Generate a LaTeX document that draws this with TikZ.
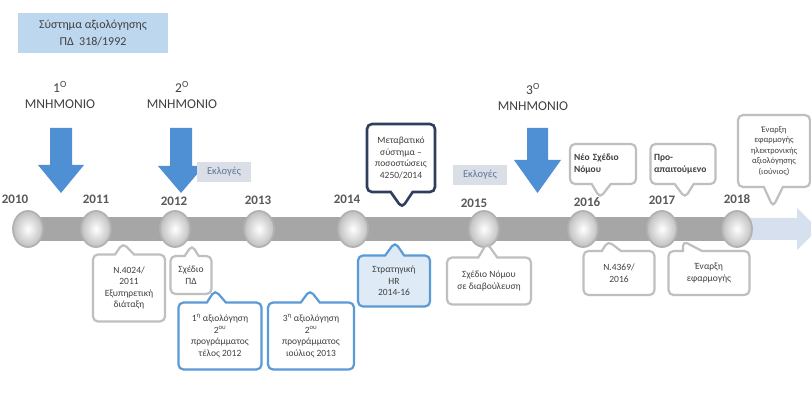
\documentclass[tikz,border=0pt]{standalone}
\usepackage{fontspec}
\setmainfont{Carlito}
\usetikzlibrary{shapes.geometric,shapes.callouts}
\definecolor{arrowblue}{HTML}{4F8FD3}
\definecolor{topbox}{HTML}{BDD7EE}
\definecolor{txt}{HTML}{404040}
\definecolor{yeartxt}{HTML}{595959}
\definecolor{barg}{HTML}{A6A6A6}
\definecolor{barb}{HTML}{D6E0EE}
\definecolor{grayb}{HTML}{BFBFBF}
\definecolor{blueb}{HTML}{5B9BD5}
\definecolor{navyb}{HTML}{2F3E5C}
\definecolor{stratfill}{HTML}{DEEBF7}
\definecolor{eklfill}{HTML}{D9DEE7}
\definecolor{ekltxt}{HTML}{5F7697}
\tikzset{
  callbase/.style={rectangle callout, rounded corners=5pt, line width=2.2pt, fill=white,
    text=txt, font=\fontsize{9.5}{11.5}\selectfont, align=center, inner sep=2pt,
    callout pointer width=19pt},
  graycall/.style={callbase, draw=grayb},
  bluecall/.style={callbase, draw=blueb},
  navycall/.style={callbase, draw=navyb, line width=2.6pt, callout pointer width=22pt},
  yearlbl/.style={font=\fontsize{13}{15}\selectfont\bfseries, text=yeartxt, inner sep=0pt},
  ball/.style={ellipse, minimum width=30pt, minimum height=36pt, inner sep=0pt,
    inner color=white, outer color=gray!50, draw=gray!60, line width=1.8pt},
  memlbl/.style={font=\fontsize{13.5}{16}\selectfont, text=txt, align=center, inner sep=0pt},
  eklbox/.style={fill=eklfill, text=ekltxt, font=\fontsize{10.5}{12}\selectfont,
    minimum width=54pt, minimum height=20pt, inner sep=1pt},
  blockarrow/.style={fill=arrowblue, draw=none}
}
\begin{document}
\begin{tikzpicture}[x=1pt,y=-1pt]
\useasboundingbox (0,0) rectangle (811,403);
\fill[white] (0,0) rectangle (811,403);

% top-left box
\node[fill=topbox, minimum width=150pt, minimum height=40pt, text=txt, align=center,
  font=\fontsize{12}{17}\selectfont] (pd) at (93,33) {Σύστημα αξιολόγησης\\ΠΔ\ \ 318/1992};

% memoranda labels
\node[memlbl] (m1) at (60,95) {1\textsuperscript{Ο}\\ΜΝΗΜΟΝΙΟ};
\node[memlbl] (m2) at (182,95) {2\textsuperscript{Ο}\\ΜΝΗΜΟΝΙΟ};
\node[memlbl] (m3) at (533,97) {3\textsuperscript{Ο}\\ΜΝΗΜΟΝΙΟ};

% block arrows
\fill[blockarrow] (50,128) -- (72,128) -- (72,165) -- (84,165) -- (61,193) -- (38,165) -- (50,165) -- cycle;
\fill[blockarrow] (170,128) -- (192,128) -- (192,166) -- (204,166) -- (181,193) -- (158,166) -- (170,166) -- cycle;
\fill[blockarrow] (527,128) -- (548,128) -- (548,160) -- (561,160) -- (537.5,193) -- (514,160) -- (527,160) -- cycle;

% elections
\node[eklbox] (ekl1) at (224,172) {Εκλογές};
\node[eklbox] (ekl2) at (480,175) {Εκλογές};

% timeline bars
\fill[barb] (740,218) -- (797,218) -- (797,208) -- (818,229) -- (797,250) -- (797,240) -- (740,240) -- cycle;
\fill[barg] (25,217) rectangle (740,241);

% circles
\node[ball] (c2010) at (28,229) {};
\node[ball] (c2011) at (96,229) {};
\node[ball] (c2012) at (175,229) {};
\node[ball] (c2013) at (259,229) {};
\node[ball] (c2014) at (353,229) {};
\node[ball] (c2015) at (484,229) {};
\node[ball] (c2016) at (583,229) {};
\node[ball] (c2017) at (662,229) {};
\node[ball] (c2018) at (737,229) {};

% years
\node[yearlbl] (y2010) at (15,199) {2010};
\node[yearlbl] (y2011) at (96,199) {2011};
\node[yearlbl] (y2012) at (174,201) {2012};
\node[yearlbl] (y2013) at (258,200) {2013};
\node[yearlbl] (y2014) at (347,199) {2014};
\node[yearlbl] (y2015) at (474,203) {2015};
\node[yearlbl] (y2016) at (587,202) {2016};
\node[yearlbl] (y2017) at (662,200) {2017};
\node[yearlbl] (y2018) at (737,199) {2018};

% pointer targets
\coordinate (p1) at (402,208);
\coordinate (p2) at (600,198);
\coordinate (p3) at (685,198);
\coordinate (p4) at (773,207);
\coordinate (q1) at (123,243);
\coordinate (q2) at (192,245);
\coordinate (q3) at (215,290);
\coordinate (q4) at (310,290);
\coordinate (q5) at (395,242);
\coordinate (q6) at (487,243);
\coordinate (q7) at (608,241);
\coordinate (q8) at (683,241);

% callouts above
\node[navycall, minimum width=68pt, minimum height=68pt, callout absolute pointer={(p1)}]
  (meta) at (401,158) {Μεταβατικό\\σύστημα –\\ποσοστώσεις\\4250/2014};
\node[graycall, minimum width=66pt, minimum height=40pt, text width=58pt, align=left,
  font=\fontsize{9.5}{11.5}\selectfont\bfseries, callout absolute pointer={(p2)}]
  (neo) at (603,164) {Νέο Σχέδιο\\Νόμου};
\node[graycall, minimum width=65pt, minimum height=40pt, text width=58pt, align=left,
  font=\fontsize{9.5}{11.5}\selectfont\bfseries, callout absolute pointer={(p3)}]
  (pro) at (683,164) {Προ-\\απαιτούμενο};
\node[graycall, minimum width=72pt, minimum height=72pt, font=\fontsize{8.5}{10.5}\selectfont,
  callout absolute pointer={(p4)}]
  (enarxi) at (774,151) {Έναρξη\\εφαρμογής\\ηλεκτρονικής\\αξιολόγησης\\(ιούνιος)};

% callouts below
\node[graycall, minimum width=72pt, minimum height=67pt, callout absolute pointer={(q1)}]
  (n4024) at (129,288) {Ν.4024/\\2011\\Εξυπηρετική\\διάταξη};
\node[graycall, minimum width=41pt, minimum height=38pt, callout pointer width=14pt,
  callout absolute pointer={(q2)}]
  (sxpd) at (191,275) {Σχέδιο\\ΠΔ};
\node[bluecall, minimum width=83pt, minimum height=67pt, callout absolute pointer={(q3)}]
  (a1) at (220,336) {1\textsuperscript{η} αξιολόγηση\\2\textsuperscript{ου}\\προγράμματος\\τέλος 2012};
\node[bluecall, minimum width=86pt, minimum height=67pt, callout absolute pointer={(q4)}]
  (a3) at (311,336) {3\textsuperscript{η} αξιολόγηση\\2\textsuperscript{ου}\\προγράμματος\\ιούλιος 2013};
\node[bluecall, fill=stratfill, minimum width=72pt, minimum height=51pt, callout absolute pointer={(q5)}]
  (strat) at (394,281) {Στρατηγική\\HR\\2014-16};
\node[graycall, minimum width=84pt, minimum height=47pt, callout absolute pointer={(q6)}]
  (sxn) at (489,281) {Σχέδιο Νόμου\\σε διαβούλευση};
\node[graycall, minimum width=71pt, minimum height=44pt, callout absolute pointer={(q7)}]
  (n4369) at (619,273) {Ν.4369/\\2016};
\node[graycall, minimum width=81pt, minimum height=44pt, callout absolute pointer={(q8)}]
  (enarxi2) at (709,273) {Έναρξη\\εφαρμογής};
\end{tikzpicture}
\end{document}
